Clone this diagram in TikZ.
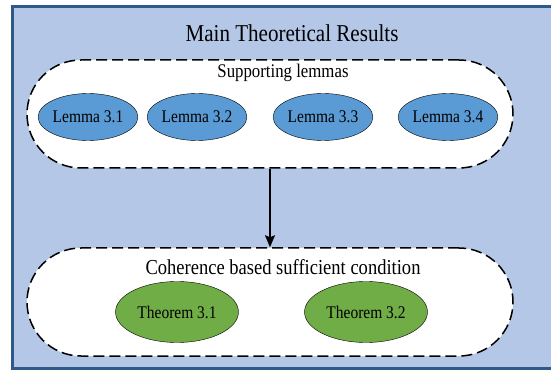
\documentclass[tikz,border=0pt]{standalone}
\usepackage{fontspec}
\setmainfont[FakeStretch=0.87]{Liberation Serif}
\usetikzlibrary{shapes.geometric,arrows.meta}
\definecolor{outerfill}{HTML}{B4C7E7}
\definecolor{outerline}{HTML}{2E5A8A}
\definecolor{lemmafill}{HTML}{5B9BD5}
\definecolor{thmfill}{HTML}{70AD47}
\begin{document}
\begin{tikzpicture}[x=1pt,y=-1pt,>={Stealth[length=12pt,width=10pt,inset=2pt]}]
	\tikzset{groupbox/.style={draw,fill=white,line width=1.5pt,dash pattern=on 11pt off 5pt,rounded corners=54pt,minimum width=486pt,minimum height=108pt},
		lemma/.style={ellipse,draw,fill=lemmafill,minimum width=99pt,minimum height=47pt,inner sep=0pt,font=\fontsize{17.8pt}{18pt}\selectfont},
		theorem/.style={ellipse,draw,fill=thmfill,minimum width=123pt,minimum height=61pt,inner sep=0pt,font=\fontsize{17.8pt}{18pt}\selectfont}}
	\useasboundingbox (0,0) rectangle (551,371);
	\begin{scope}
		\clip (0,0) rectangle (551,371);
		\draw[line width=3pt,draw=outerline,fill=outerfill] (12,7) rectangle (565,368);
	\end{scope}
	\node[font=\fontsize{24.2pt}{25pt}\selectfont] (main) at (292,33) {Main Theoretical Results};
	% supporting lemmas
	\node[groupbox] (lemmas) at (270,114) {};
	\node[font=\fontsize{19.3pt}{20pt}\selectfont] (lemmastitle) at (283,73) {Supporting lemmas};
	\node[lemma] (l1) at (88,117) {Lemma 3.1};
	\node[lemma] (l2) at (197,117) {Lemma 3.2};
	\node[lemma] (l3) at (323,117) {Lemma 3.3};
	\node[lemma] (l4) at (448,117) {Lemma 3.4};
	% sufficient condition
	\node[groupbox] (cond) at (270,302) {};
	\node[font=\fontsize{21.3pt}{22pt}\selectfont] (condtitle) at (283,267) {Coherence based sufficient condition};
	\node[theorem] (t1) at (177,312) {Theorem 3.1};
	\node[theorem] (t2) at (366,312) {Theorem 3.2};
	\draw[->,line width=1.5pt] (lemmas.south) -- (cond.north);
\end{tikzpicture}
\end{document}
